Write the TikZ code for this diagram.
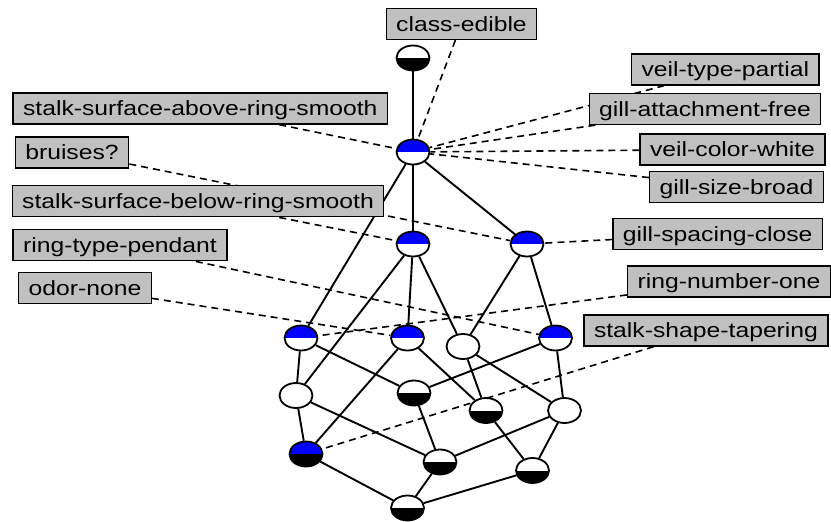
\documentclass[tikz,border=0pt]{standalone}
\usepackage{fontspec}
\newfontfamily\lblfont[FakeStretch=1.2]{Liberation Sans}
\usetikzlibrary{shapes.geometric}
\definecolor{lblgray}{RGB}{192,192,192}
\pgfdeclarelayer{bg}
\pgfsetlayers{bg,main}
\begin{document}
\begin{tikzpicture}[x=1pt,y=-1pt,
  lbl/.style={draw=black, line width=1.3pt, fill=lblgray,
    font=\lblfont\fontsize{20.6}{24}\selectfont,
    inner xsep=10pt, inner ysep=0pt, minimum height=31pt,
    text height=17pt, text depth=3pt},
  cnode/.style 2 args={ellipse, draw=black, line width=1.8pt,
    minimum width=33pt, minimum height=25pt, inner sep=0pt,
    path picture={
      \fill[#1] (path picture bounding box.north west) rectangle (path picture bounding box.east);
      \fill[#2] (path picture bounding box.west) rectangle (path picture bounding box.south east);
    }},
  edge/.style={line width=1.9pt, black},
  dline/.style={line width=1.6pt, black, dash pattern=on 7pt off 5pt}
]
\useasboundingbox (0,0) rectangle (831,522);

% concept nodes
\node[cnode={white}{black}] (n0) at (413,58) {};
\node[cnode={blue}{white}] (n1) at (413,152) {};
\node[cnode={blue}{white}] (n2) at (413,244) {};
\node[cnode={blue}{white}] (n3) at (527,244) {};
\node[cnode={blue}{white}] (n4) at (301,338) {};
\node[cnode={blue}{white}] (n5) at (407.5,338) {};
\node[cnode={white}{white}] (n6) at (463,346.5) {};
\node[cnode={blue}{white}] (n7) at (555.5,338) {};
\node[cnode={white}{white}] (n8) at (296,395.5) {};
\node[cnode={white}{black}] (n9) at (414,393) {};
\node[cnode={white}{black}] (n10) at (486,410.5) {};
\node[cnode={white}{white}] (n11) at (564.5,410.5) {};
\node[cnode={blue}{black}] (n12) at (306,454) {};
\node[cnode={white}{black}] (n13) at (440,462) {};
\node[cnode={white}{black}] (n14) at (532.5,470.5) {};
\node[cnode={white}{black}] (n15) at (407.5,508) {};

% labels
\node[lbl] (lce) at (461.5,24) {class-edible};
\node[lbl] (lsa) at (200.3,108.5) {stalk-surface-above-ring-smooth};
\node[lbl] (lbr) at (72,152.5) {bruises?};
\node[lbl] (lsb) at (198,201.3) {stalk-surface-below-ring-smooth};
\node[lbl] (lrt) at (120,245.3) {ring-type-pendant};
\node[lbl] (lon) at (85,288) {odor-none};
\node[lbl] (lvt) at (725.3,69.5) {veil-type-partial};
\node[lbl] (lga) at (705,109) {gill-attachment-free};
\node[lbl] (lvc) at (732.5,149.5) {veil-color-white};
\node[lbl] (lgs) at (736.5,187) {gill-size-broad};
\node[lbl] (lgc) at (717.7,234) {gill-spacing-close};
\node[lbl] (lrn) at (729,281.5) {ring-number-one};
\node[lbl] (lst) at (706,330.5) {stalk-shape-tapering};

\begin{pgfonlayer}{bg}
% solid edges
\draw[edge] (n0) -- (n1);
\draw[edge] (n1) -- (n2);
\draw[edge] (n1) -- (n3);
\draw[edge] (n1) -- (n4);
\draw[edge] (n2) -- (n5);
\draw[edge] (n2) -- (n6);
\draw[edge] (n2) -- (n8);
\draw[edge] (n3) -- (n6);
\draw[edge] (n3) -- (n7);
\draw[edge] (n4) -- (n8);
\draw[edge] (n4) -- (n9);
\draw[edge] (n5) -- (n12);
\draw[edge] (n5) -- (n10);
\draw[edge] (n6) -- (n10);
\draw[edge] (n6) -- (n11);
\draw[edge] (n7) -- (n9);
\draw[edge] (n7) -- (n11);
\draw[edge] (n8) -- (n12);
\draw[edge] (n8) -- (n13);
\draw[edge] (n9) -- (n13);
\draw[edge] (n10) -- (n14);
\draw[edge] (n11) -- (n13);
\draw[edge] (n11) -- (n14);
\draw[edge] (n12) -- (n15);
\draw[edge] (n13) -- (n15);
\draw[edge] (n14) -- (n15);
% dashed label connectors
\draw[dline] (lce) -- (n1);
\draw[dline] (lsa) -- (n1);
\draw[dline] (lvt) -- (n1);
\draw[dline] (lga) -- (n1);
\draw[dline] (lvc) -- (n1);
\draw[dline] (lgs) -- (n1);
\draw[dline] (lbr) -- (n3);
\draw[dline] (lsb) -- (n2);
\draw[dline] (lgc) -- (n3);
\draw[dline] (lrt) -- (n7);
\draw[dline] (lon) -- (n5);
\draw[dline] (lrn) -- (n4);
\draw[dline] (lst) -- (n12);
\end{pgfonlayer}
\end{tikzpicture}
\end{document}
